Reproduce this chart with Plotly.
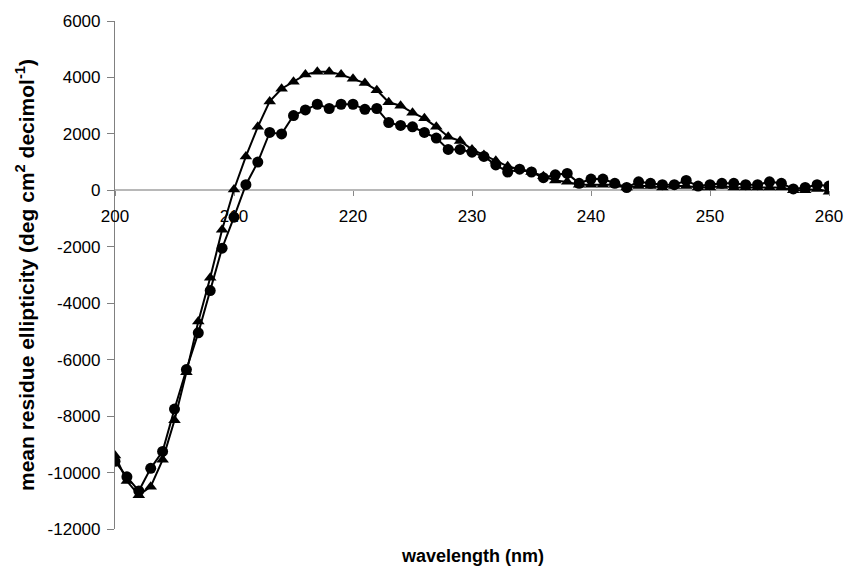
import plotly.graph_objects as go

wavelength = list(range(200, 261))

circles = [
    -9600, -10150, -10650, -9850, -9250, -7750, -6350, -5050, -3550, -2050,
    -950, 200, 1000, 2050, 2000, 2650, 2850, 3050, 2900, 3050,
    3050, 2870, 2900, 2400, 2300, 2250, 2050, 1850, 1450, 1450,
    1350, 1200, 900, 650, 750, 650, 450, 550, 600, 250,
    400, 400, 250, 100, 300, 250, 200, 200, 350, 150,
    200, 250, 250, 200, 200, 300, 250, 50, 100, 200,
    150,
]

triangles = [
    -9400, -10300, -10800, -10500, -9550, -8150, -6450, -4650, -3100, -1400,
    30, 1200, 2250, 3150, 3600, 3850, 4100, 4200, 4200, 4100,
    3950, 3800, 3550, 3120, 3000, 2750, 2550, 2250, 1900, 1750,
    1450, 1250, 1050, 850, 750, 650, 500, 350, 300, 200,
    200, 200, 200, 100, 150, 150, 100, 150, 150, 100,
    100, 150, 100, 100, 100, 100, 100, 0, 0, 50,
    -50,
]

x_ticks = [200, 210, 220, 230, 240, 250, 260]
y_ticks = [-12000, -10000, -8000, -6000, -4000, -2000, 0, 2000, 4000, 6000]

FONT = "Liberation Sans, Arial, sans-serif"

fig = go.Figure()
fig.add_trace(go.Scatter(
    x=wavelength, y=triangles, mode="lines+markers",
    line=dict(color="black", width=2),
    marker=dict(symbol="triangle-up", size=11, color="black"),
    showlegend=False,
))
fig.add_trace(go.Scatter(
    x=wavelength, y=circles, mode="lines+markers",
    line=dict(color="black", width=2),
    marker=dict(symbol="circle", size=11, color="black"),
    showlegend=False,
))

fig.update_layout(
    width=855, height=567,
    margin=dict(l=115, r=17, t=21, b=38),
    paper_bgcolor="white", plot_bgcolor="white",
    font=dict(family=FONT, color="black", size=17),
    xaxis=dict(
        range=[200, 260], tickvals=x_ticks, ticktext=[str(v) for v in x_ticks],
        anchor="free", position=2/3,
        showline=True, linecolor="#b8b8b8", linewidth=1.5,
        ticks="outside", ticklen=5, tickcolor="#888888",
        showgrid=False, zeroline=False,
        ticklabelstandoff=6,
        layer="below traces",
        tickfont=dict(size=17),
    ),
    yaxis=dict(
        range=[-12000, 6000], tickvals=y_ticks, ticktext=[str(v) for v in y_ticks],
        showline=True, linecolor="#808080", linewidth=1.2,
        ticks="outside", ticklen=7, tickcolor="#808080",
        showgrid=False, zeroline=False,
        ticklabelstandoff=3,
        layer="below traces",
        tickfont=dict(size=17),
    ),
    annotations=[
        dict(
            text="<b>wavelength (nm)</b>", xref="paper", yref="paper",
            x=0.501, y=-0.053, xanchor="center", yanchor="middle",
            showarrow=False, font=dict(size=18, family=FONT),
        ),
        dict(
            text="<b>mean residue ellipticity (deg cm<sup>2</sup> decimol<sup>-1</sup>)</b>",
            xref="paper", yref="paper",
            x=-0.126, y=0.5, xanchor="center", yanchor="middle",
            textangle=-90, showarrow=False, font=dict(size=21, family=FONT),
        ),
    ],
)

fig.write_html(
    "out.html",
    config={"displayModeBar": False},
    post_script="document.body.style.margin='0';document.body.style.padding='0';",
)
